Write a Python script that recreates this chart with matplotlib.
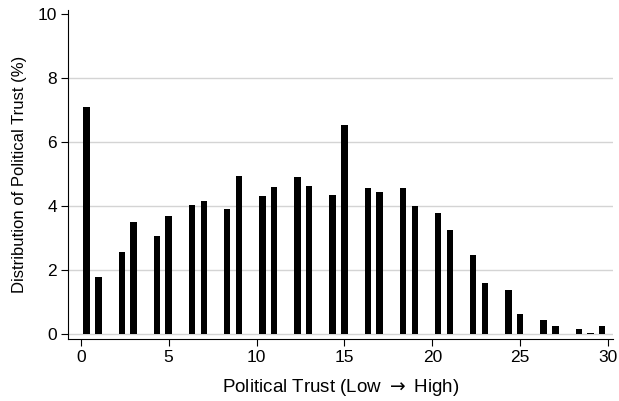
import numpy as np
import matplotlib
matplotlib.use("Agg")
from matplotlib import pyplot as plt

plt.rcParams['font.family'] = ['Liberation Sans', 'DejaVu Sans']
plt.rcParams['mathtext.fontset'] = 'dejavusans'

# political trust score (bars sit on a 2/3 grid, some empty)
trust = [0.33, 1, 2.33, 3, 4.33, 5, 6.33, 7, 8.33, 9,
         10.33, 11, 12.33, 13, 14.33, 15, 16.33, 17, 18.33, 19,
         20.33, 21, 22.33, 23, 24.33, 25, 26.33, 27, 28.33, 29, 29.67]
pct = [7.11, 1.78, 2.58, 3.49, 3.07, 3.69, 4.05, 4.16, 3.91, 4.95,
       4.32, 4.61, 4.91, 4.62, 4.35, 6.55, 4.57, 4.45, 4.56, 4.01,
       3.78, 3.24, 2.48, 1.59, 1.37, 0.62, 0.45, 0.24, 0.17, 0.05, 0.25]
xticks = [0, 5, 10, 15, 20, 25, 30]
yticks = [0, 2, 4, 6, 8, 10]

fig = plt.figure(figsize=(6.19, 4.01), dpi=100)
ax = fig.add_axes([68.3/619, 1 - 339.3/401, (613-68.3)/619, (339.3-10)/401])

ax.bar(trust, pct, width=0.36, color='black', zorder=3)

for y in yticks[:-1]:
    ax.axhline(y, color='#d4d4d4', lw=1, zorder=1)

ax.set_xlim(-0.71, 30.28)
ax.set_ylim(-0.16, 10.13)
ax.set_xticks(xticks)
ax.set_yticks(yticks)
ax.tick_params(axis='both', direction='out', length=5, width=0.8,
               labelsize=12.5, colors='black', pad=3)

ax.spines['top'].set_visible(False)
ax.spines['right'].set_visible(False)
ax.spines['left'].set_linewidth(0.8)
ax.spines['bottom'].set_linewidth(0.8)

ax.set_xlabel('Political Trust (Low $\\rightarrow$ High)', fontsize=13.5, labelpad=8)
ax.set_ylabel('Distribution of Political Trust (%)', fontsize=12, labelpad=8)

fig.savefig('out.png', dpi=100)
